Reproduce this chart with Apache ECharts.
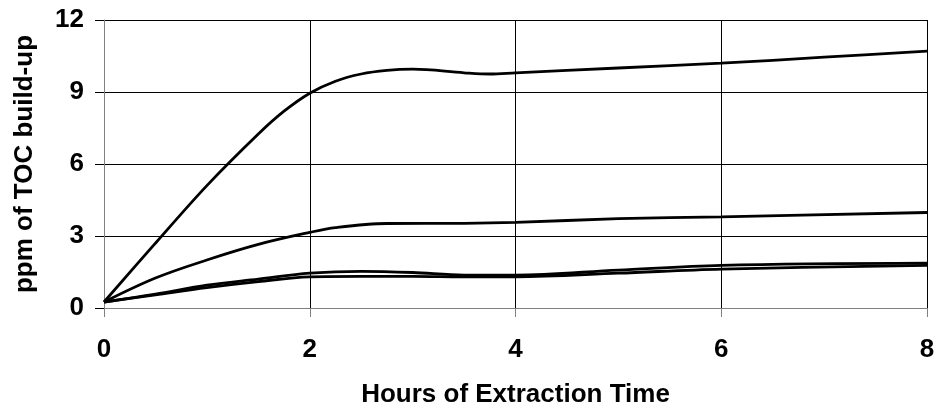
<!DOCTYPE html>
<html>
<head>
<meta charset="utf-8">
<script src="https://cdn.jsdelivr.net/npm/echarts@6/dist/echarts.min.js"></script>
<style>
html,body{margin:0;padding:0;background:#fff;}
#chart{width:937px;height:409px;}
</style>
</head>
<body>
<div id="chart"></div>
<script>
// Hours of extraction (x) and ppm of TOC build-up (y) for each curve
const curveA = [[0,0.25],[0.5,2.7],[1,5.1],[1.5,7.25],[1.75,8.2],[2,8.95],[2.25,9.45],[2.5,9.75],[2.75,9.9],[3,9.95],[3.5,9.8],[3.75,9.75],[4,9.8],[5,10.0],[6,10.2],[7,10.45],[8,10.7]];
const curveB = [[0,0.25],[0.5,1.25],[1,2.0],[1.5,2.65],[2,3.15],[2.25,3.35],[2.75,3.52],[3.5,3.53],[4,3.57],[5,3.72],[6,3.8],[8,3.98]];
const curveC = [[0,0.25],[0.5,0.58],[1,0.95],[1.5,1.2],[2,1.45],[2.5,1.53],[3,1.48],[3.5,1.37],[4,1.37],[5,1.58],[6,1.78],[8,1.87]];
const curveD = [[0,0.25],[0.5,0.55],[1,0.85],[1.5,1.1],[2,1.3],[2.5,1.32],[3,1.32],[3.5,1.3],[4,1.3],[5,1.45],[6,1.62],[8,1.78]];
const xTicks = [0,2,4,6,8];
const yTicks = [0,3,6,9,12];
const xTitle = 'Hours of Extraction Time';
const yTitle = 'ppm of TOC build-up';

const FONT = 'Liberation Sans, Arial, sans-serif';
const FS = 26;
const chart = echarts.init(document.getElementById('chart'), null, {renderer:'canvas'});
function mk(data){
  return {type:'line', data:data, smooth:0.35, symbol:'none',
    lineStyle:{color:'#000', width:2.8}, itemStyle:{color:'#000'}, animation:false};
}
chart.setOption({
  animation:false,
  backgroundColor:'#fff',
  grid:{left:104, right:10, top:20, bottom:101, containLabel:false, outerBoundsMode:'none'},
  xAxis:{
    type:'value', min:xTicks[0], max:xTicks[xTicks.length-1], interval:2,
    name:xTitle, nameLocation:'middle', nameGap:74,
    nameTextStyle:{fontFamily:FONT, fontWeight:'bold', fontSize:FS, color:'#000'},
    axisLine:{show:true, onZero:false, lineStyle:{color:'#808080', width:1}},
    axisTick:{show:true, length:9, inside:false, lineStyle:{color:'#808080'}},
    axisLabel:{fontFamily:FONT, fontWeight:'bold', fontSize:FS, color:'#000', margin:29},
    splitLine:{show:true, lineStyle:{color:'#000', width:1}}
  },
  yAxis:{
    type:'value', min:yTicks[0], max:yTicks[yTicks.length-1], interval:3,
    name:yTitle, nameLocation:'middle', nameGap:66, nameRotate:90,
    nameTextStyle:{fontFamily:FONT, fontWeight:'bold', fontSize:FS, color:'#000'},
    axisLine:{show:true, onZero:false, lineStyle:{color:'#808080', width:1}},
    axisTick:{show:true, length:9, inside:false, lineStyle:{color:'#000'}},
    axisLabel:{fontFamily:FONT, fontWeight:'bold', fontSize:FS, color:'#000', margin:20},
    splitLine:{show:true, lineStyle:{color:'#000', width:1}}
  },
  series:[mk(curveA), mk(curveB), mk(curveC), mk(curveD)]
});
</script>
</body>
</html>
